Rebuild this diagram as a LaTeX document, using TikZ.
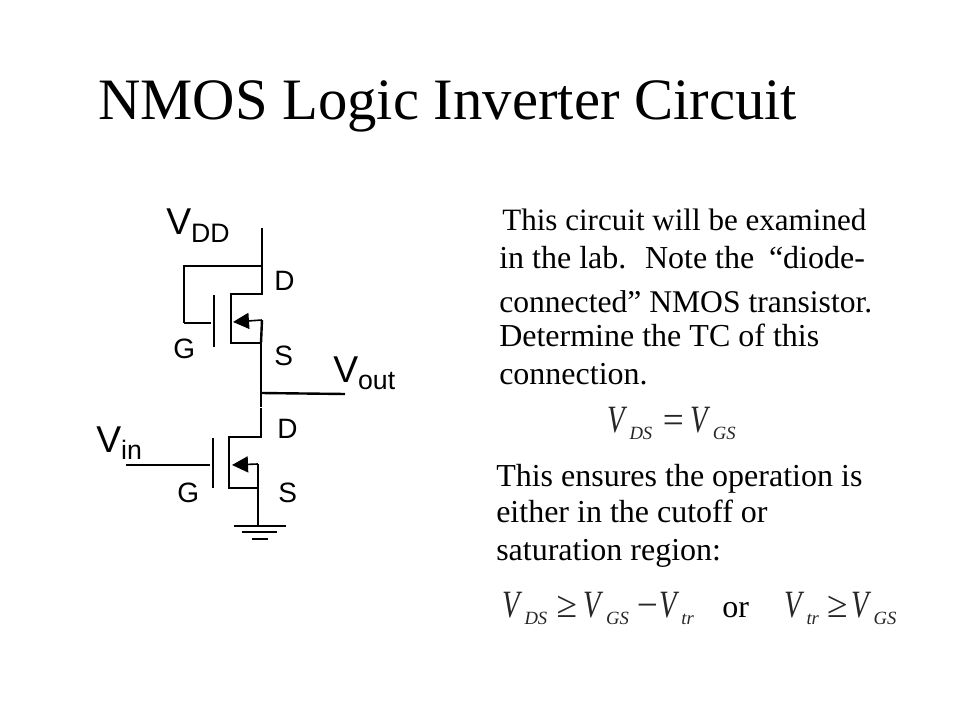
\documentclass[tikz,border=0pt]{standalone}
\usepackage{fontspec}
\usepackage{graphicx}
\setmainfont{Liberation Serif}
\setsansfont{Liberation Sans}
\usetikzlibrary{arrows.meta}
\definecolor{myeqcolor}{gray}{0.15}
\newcommand{\symV}[1]{\scalebox{0.74}[1]{\textit{\fontsize{29pt}{29pt}\selectfont V}}\kern1.5pt\raisebox{-5.5pt}{\textit{\fontsize{14pt}{14pt}\selectfont #1}}}
\newcommand{\volt}[1]{V\raisebox{-5.5pt}{\fontsize{20pt}{20pt}\selectfont #1}}
\tikzset{
  thinwire/.style={line width=1.2pt},
  wire/.style={line width=1.8pt},
  heavywire/.style={line width=2.2pt},
  bodyline/.style={anchor=base west, inner sep=0pt, font=\fontsize{24pt}{24pt}\selectfont},
  circuitlabel/.style={anchor=base west, inner sep=0pt, font=\sffamily\fontsize{21pt}{21pt}\selectfont},
  voltlabel/.style={anchor=base west, inner sep=0pt, font=\sffamily\fontsize{28pt}{28pt}\selectfont},
  eqline/.style={anchor=base west, inner sep=0pt, text=myeqcolor, font=\fontsize{28pt}{28pt}\selectfont},
  tip/.style={-{Triangle[length=12pt,width=12pt]}, line width=1.2pt}
}

\begin{document}
\begin{tikzpicture}[x=0.75pt,y=-0.75pt]%
\useasboundingbox (0,0) rectangle (960,720);%
\node[anchor=base west, inner sep=0pt, font=\fontsize{44pt}{44pt}\selectfont] (title) at (98,120) {NMOS Logic Inverter Circuit};%
% upper transistor
\coordinate (vddtop) at (262,228);%
\coordinate (vddtee) at (262,266);%
\coordinate (gateloop) at (184,266);%
\coordinate (gatebend) at (184,323);%
\coordinate (gateend) at (211,323);%
\coordinate (platetop) at (214,295);%
\coordinate (platebot) at (214,347);%
\coordinate (chantop) at (231,294);%
\coordinate (chanbot) at (231,343);%
\coordinate (drainend) at (262,294);%
\coordinate (srcend) at (261,343);%
\coordinate (srctop) at (262,320);%
\coordinate (arrowend) at (233,322);%
\coordinate (outtee) at (261,393);%
\coordinate (outend) at (345,394);%
\coordinate (midend) at (261,407);%
\draw[wire] (vddtop) -- (vddtee) -- (drainend) -- (chantop) -- (chanbot) -- (srcend);%
\draw[heavywire] (vddtee) -- (gateloop) -- (gatebend);%
\draw[thinwire] (gatebend) -- (gateend);%
\draw[thinwire] (platetop) -- (platebot);%
\draw[tip] (srctop) -- (arrowend);%
\draw[wire] (srctop) -- (srcend);%
\draw[heavywire] (srcend) -- (midend);%
\draw[wire] (outtee) -- (outend);%
% lower transistor
\coordinate (lowtop) at (261,408);%
\coordinate (lowdrain) at (261,437);%
\coordinate (lowchantop) at (229,437);%
\coordinate (lowchanbot) at (229,488);%
\coordinate (lowsrc) at (258,488);%
\coordinate (lowsrctop) at (258,464);%
\coordinate (lowarrow) at (232,465);%
\coordinate (lowplatetop) at (213,438);%
\coordinate (lowplatebot) at (213,488);%
\coordinate (inend) at (126,465);%
\coordinate (ingate) at (210,465);%
\coordinate (gnd) at (258,526);%
\draw[wire] (lowtop) -- (lowdrain) -- (lowchantop) -- (lowchanbot) -- (lowsrc);%
\draw[tip] (lowsrctop) -- (lowarrow);%
\draw[heavywire] (lowsrctop) -- (gnd);%
\draw[thinwire] (lowplatetop) -- (lowplatebot);%
\draw[thinwire] (inend) -- (ingate);%
% ground
\coordinate (gnda) at (234,526);%
\coordinate (gndb) at (286,526);%
\coordinate (gndc) at (242,532);%
\coordinate (gndd) at (277,532);%
\coordinate (gnde) at (252,539);%
\coordinate (gndf) at (268,539);%
\draw[wire] (gnda) -- (gndb);%
\draw[wire] (gndc) -- (gndd);%
\draw[wire] (gnde) -- (gndf);%
% circuit labels
\node[voltlabel] (vddlabel) at (166,235) {\volt{DD}};%
\node[voltlabel] (voutlabel) at (333,382) {\volt{out}};%
\node[voltlabel] (vinlabel) at (96,452) {\volt{in}};%
\node[circuitlabel] (dupper) at (274,291) {D};%
\node[circuitlabel] (gupper) at (173,358) {G};%
\node[circuitlabel] (supper) at (274,365) {S};%
\node[circuitlabel] (dlower) at (277,438) {D};%
\node[circuitlabel] (glower) at (177,502) {G};%
\node[circuitlabel] (slower) at (278,502) {S};%
% text on the right
\node[bodyline, font=\fontsize{23.3pt}{24pt}\selectfont] (linea) at (502,231) {This circuit will be examined};%
\node[bodyline] (lineb) at (499,269) {in the lab.\hspace{6pt} Note the\hspace{5pt} “diode-};%
\node[bodyline, font=\fontsize{23.7pt}{24pt}\selectfont] (linec) at (499,312) {connected” NMOS transistor.};%
\node[bodyline] (lined) at (499,346) {Determine the TC of this};%
\node[bodyline] (linee) at (499,384) {connection.};%
\node[eqline] (eqone) at (607,432) {\symV{DS}\kern8pt=\kern5pt\symV{GS}};%
\node[bodyline] (linef) at (496,486) {This ensures the operation is};%
\node[bodyline] (lineg) at (496,522) {either in the cutoff or};%
\node[bodyline] (lineh) at (496,560) {saturation region:};%
\node[eqline] (eqtwo) at (502,617) {\symV{DS}\kern7pt≥\kern5pt\symV{GS}\kern6pt−\kern1pt\symV{tr}};%
\node[bodyline] (ortext) at (722,617) {or};%
\node[eqline] (eqthree) at (784,617) {\symV{tr}\kern6pt≥\kern3pt\symV{GS}};%
\end{tikzpicture}
\end{document}
